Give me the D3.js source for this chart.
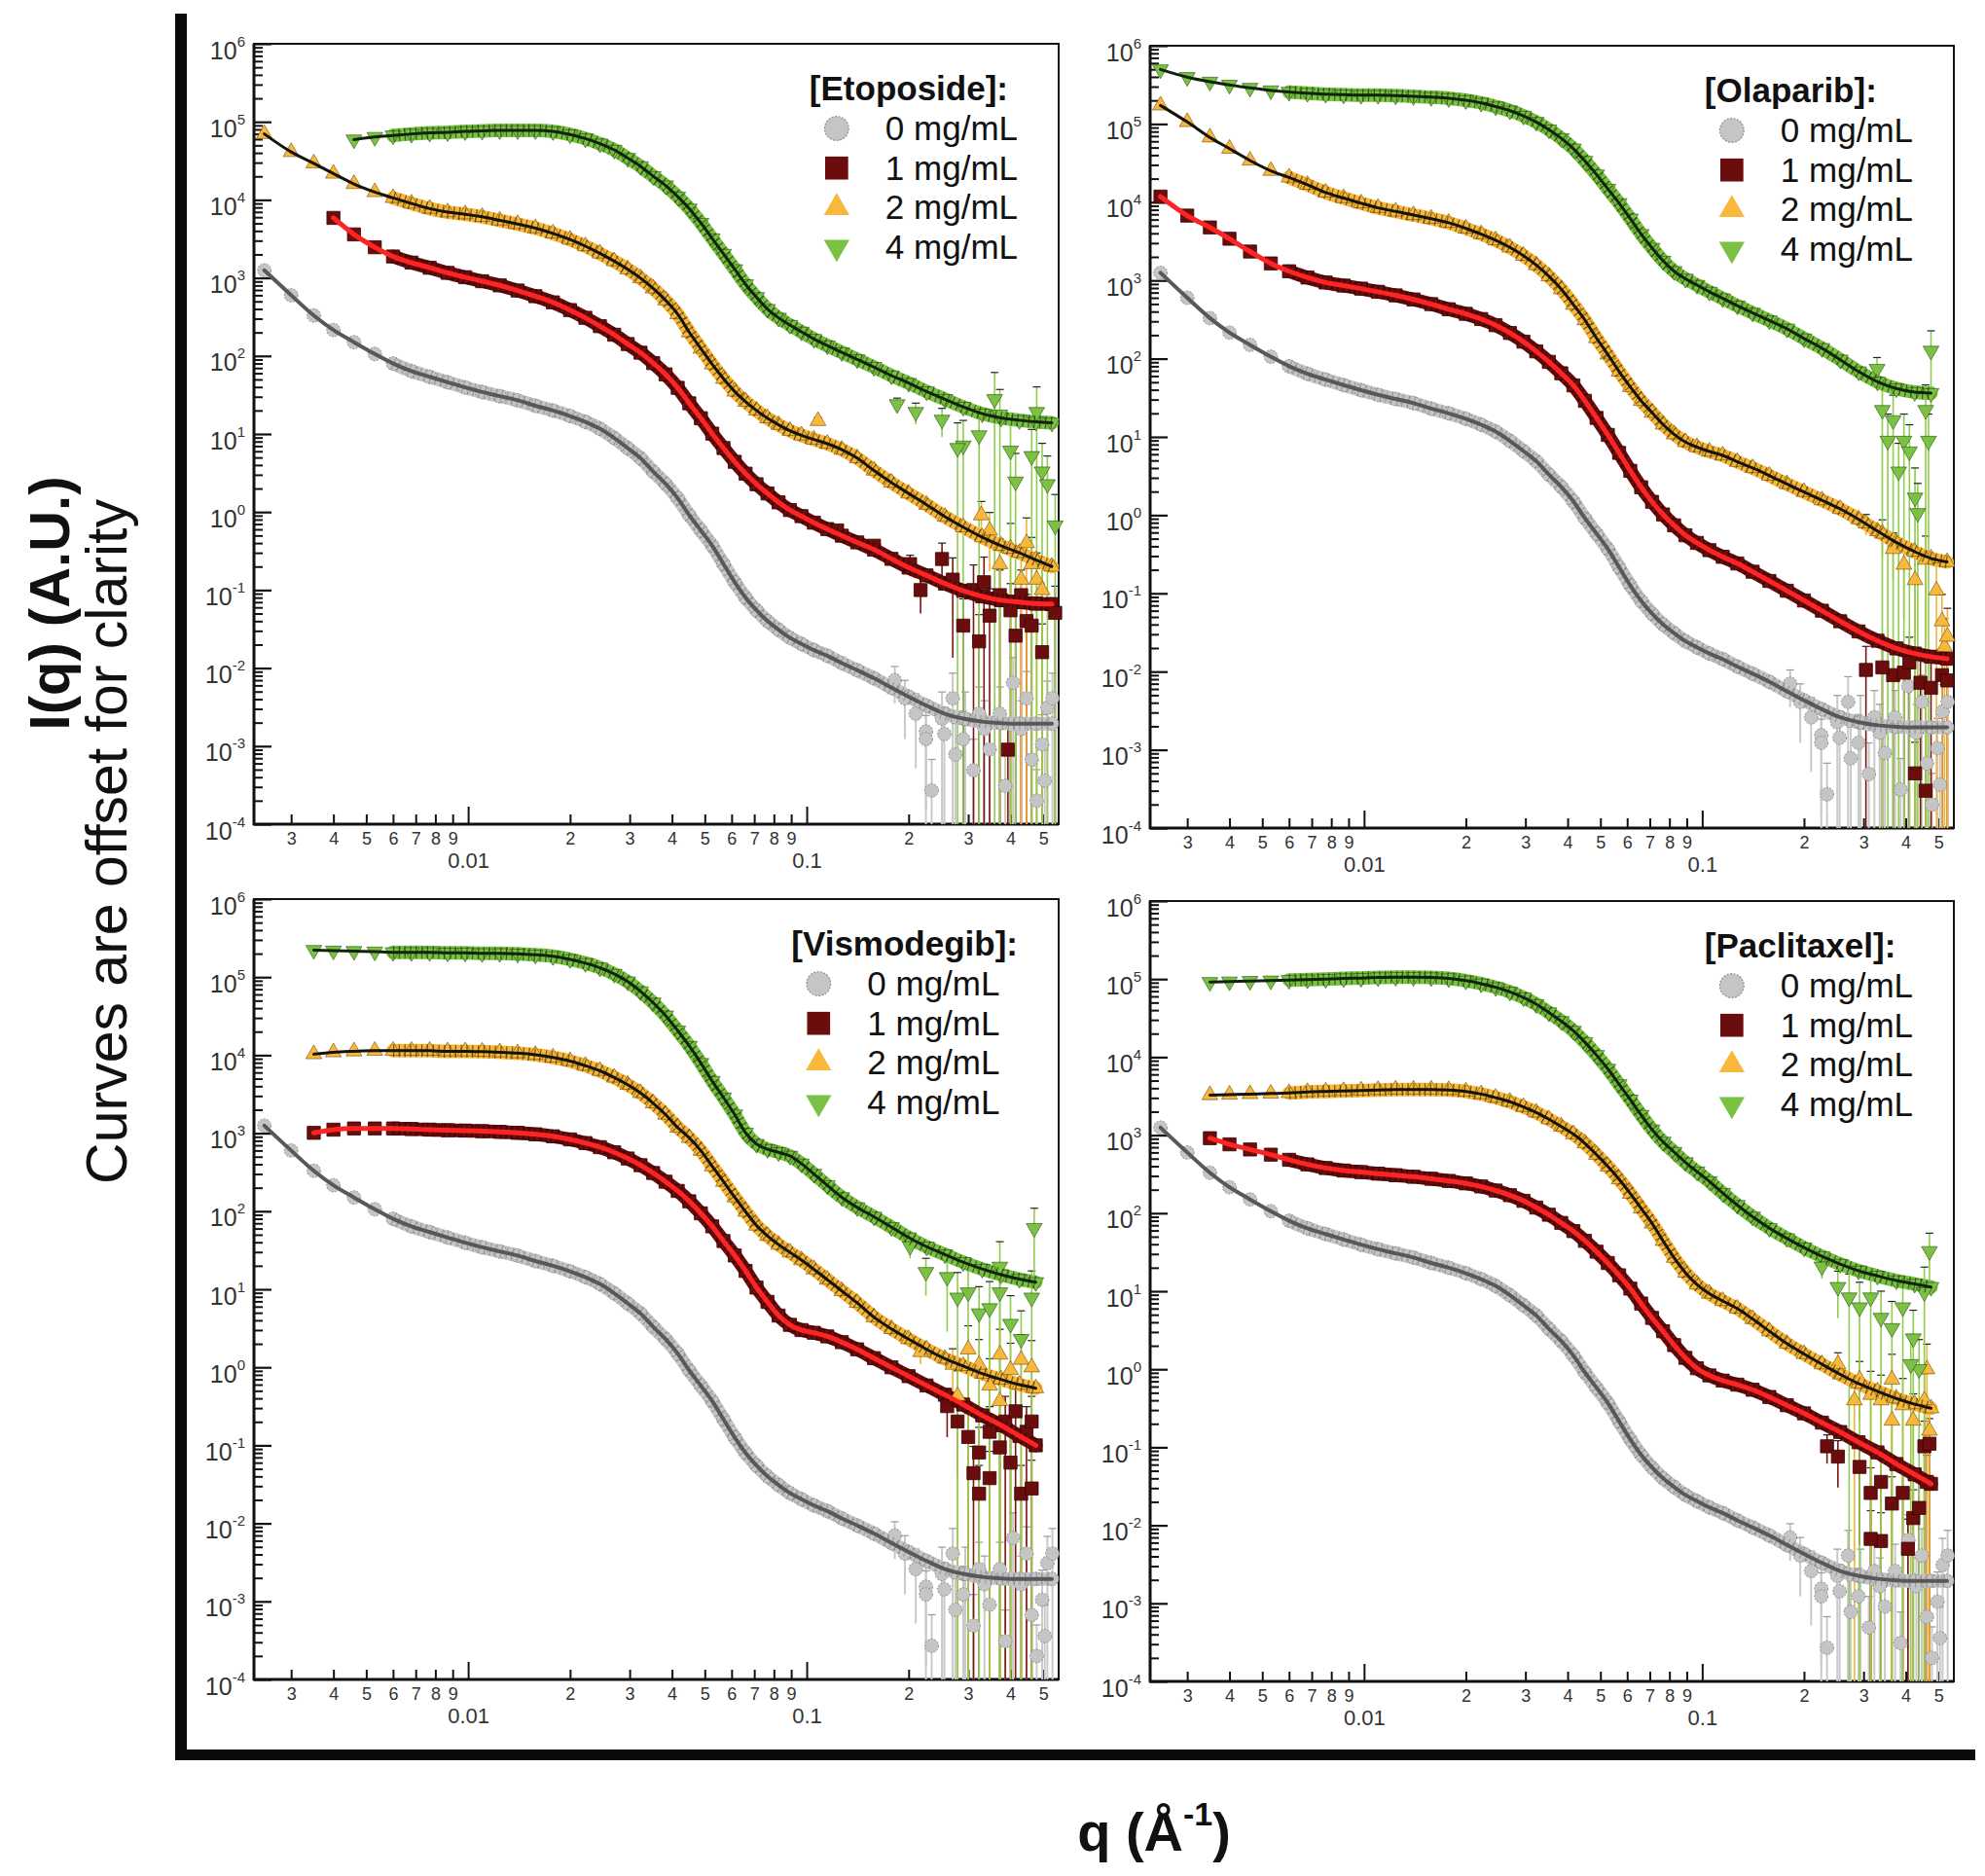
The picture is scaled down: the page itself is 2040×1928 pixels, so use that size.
<!DOCTYPE html>
<html><head><meta charset="utf-8">
<script src="https://cdn.jsdelivr.net/npm/d3@7"></script>
<style>
html,body{margin:0;padding:0;background:#fff;}
svg{display:block;font-family:"Liberation Sans",Arial,Helvetica,sans-serif;}
</style></head><body>
<svg id="chart" width="2040" height="1928"></svg>
<script>
// ---------------- DATA ----------------
const qGrid = [0.0025,0.003,0.0035,0.004,0.0046,0.0053,0.006,0.0068,0.0077,0.0087,0.0098,0.011,0.0124,0.014,0.0158,0.0178,0.02,0.0222,0.0245,0.027,0.0296,0.0323,0.0352,0.0383,0.0416,0.045,0.0487,0.0526,0.0568,0.0613,0.066,0.0711,0.0766,0.0826,0.0892,0.0965,0.105,0.115,0.127,0.141,0.158,0.178,0.2,0.226,0.256,0.29,0.33,0.375,0.425,0.475,0.53];

const drugNames = ["Etoposide","Olaparib","Vismodegib","Paclitaxel"];
const concLabels = ["0 mg/mL","1 mg/mL","2 mg/mL","4 mg/mL"];

// 0 mg/mL control (same in every panel)
const control0 = [1250,600,330,215,150,106,80,64,54,46,39.5,34.5,30.5,27,23,20,17,14.3,11.7,8.9,6.6,4.9,3.3,2.3,1.5,0.91,0.58,0.37,0.215,0.126,0.080,0.055,0.040,0.031,0.0245,0.0204,0.017,0.0144,0.0116,0.0094,0.0074,0.0056,0.0043,0.0033,0.0026,0.00225,0.00206,0.00197,0.00194,0.00194,0.00194];
const control0Noise = [[0.182,0.0070,0.5],[0.195,0.0041,0.7],[0.210,0.0026,0.8],[0.225,0.00154,0.9],[0.234,0.00027,1.5],[0.251,0.00225,1.2],[0.270,0.0041,1.1],[0.275,0.00078,1.5],[0.290,0.00123,1.3],[0.311,0.00049,1.5],[0.323,0.0026,1.2],[0.347,0.00091,1.5],[0.372,0.0026,1.2],[0.386,0.00031,1.5],[0.407,0.0065,1.1],[0.430,0.00166,1.3],[0.446,0.0041,1.2],[0.462,0.00067,1.5],[0.478,0.0002,1.5],[0.496,0.00105,1.4],[0.514,0.0031,1.2],[0.532,0.0041,1.1],[0.505,0.00036,1.5],[0.225,0.00123,1.0],[0.255,0.00143,1.2],[0.294,0.00225,1.2],[0.335,0.00166,1.3]];

// Etoposide
const etoposide1 = [null,null,null,5870,3610,2470,1880,1570,1350,1160,1020,906,802,689,583,486,387,308,241,187,142,110,81,58,39,24.7,15.9,10.1,6.6,4.4,3.1,2.27,1.73,1.33,1.06,0.885,0.73,0.605,0.497,0.408,0.33,0.251,0.194,0.154,0.121,0.098,0.083,0.074,0.070,0.067,0.066];
const etoposide2 = [70000,41100,29400,21700,16000,12600,10600,8990,7720,6950,6540,6060,5450,4900,4340,3720,3100,2550,2060,1640,1290,993,733,516,343,201,124,78,51,35,25.9,20,15.9,13.1,11.0,9.6,8.5,7.5,6.3,4.9,3.4,2.38,1.73,1.24,0.87,0.64,0.475,0.37,0.30,0.243,0.20];
const etoposide4 = [null,null,null,null,59200,63800,66800,70000,72100,73200,75500,76600,77800,77800,77800,75500,68900,61000,52500,43700,34300,26900,20100,15300,11000,7720,5050,3200,2030,1290,826,565,399,308,249,204,165,136,111,90,72,56,45,35,27.9,22.2,18.2,16.1,15.0,14.3,13.9];
const etoposide1Noise = [[0.123,0.58,0.1],[0.158,0.37,0.15],[0.202,0.215,0.3],[0.217,0.10,0.5],[0.251,0.25,0.6],[0.270,0.136,0.9],[0.290,0.035,1.2],[0.323,0.022,1.2],[0.347,0.047,1.2],[0.372,0.086,1.1],[0.400,0.055,1.2],[0.414,0.026,1.3],[0.446,0.040,1.2],[0.462,0.035,1.2],[0.496,0.016,1.3],[0.542,0.051,1.2],[0.393,0.0009,1.5],[0.311,0.10,1.1],[0.334,0.126,1.1],[0.430,0.086,1.1]];
const etoposide2Noise = [[0.108,14.7,0.1],[0.328,0.91,0.5],[0.347,0.58,0.7],[0.446,0.40,1.1],[0.462,0.215,1.2],[0.430,0.136,1.2],[0.478,0.136,1.2],[0.496,0.10,1.2],[0.372,0.215,1.1],[0.400,0.34,1.1]];
const etoposide4Noise = [[0.185,24,0.2],[0.210,19.1,0.3],[0.251,15.2,0.4],[0.290,7.1,1.1],[0.323,9.6,1.1],[0.359,27.9,1.2],[0.400,6.1,1.2],[0.414,2.45,1.3],[0.462,5.2,1.2],[0.496,3.3,1.3],[0.514,2.27,1.3],[0.542,0.67,1.5],[0.279,6.6,1.1],[0.478,19.1,1.1],[0.372,17.7,1.1]];

// Olaparib
const olaparib1 = [11800,6740,4760,3410,2340,1650,1310,1090,941,859,785,716,644,571,498,428,374,321,268,213,165,124,91,65,45.5,28.9,17.5,10.6,6.25,3.68,2.27,1.48,1.02,0.74,0.553,0.441,0.357,0.293,0.241,0.189,0.144,0.108,0.081,0.060,0.044,0.0326,0.0248,0.0198,0.0170,0.0155,0.0146];
const olaparib2 = [172600,106000,67400,48300,34100,25200,20700,16700,13300,11300,9700,8470,7620,6850,6160,5460,4620,3910,3260,2640,2070,1570,1130,773,491,311,183,113,68.5,43.5,28.9,20.4,14.4,10.8,8.6,7.4,6.5,5.8,4.8,4.0,3.2,2.5,1.98,1.55,1.2,0.885,0.625,0.448,0.341,0.280,0.252];
const olaparib4 = [498000,397000,346000,316000,289000,268000,256000,248000,241000,237000,234000,234000,230000,226000,220000,213000,201000,186000,167000,148000,127000,106000,84700,65500,48300,33600,22600,14800,9700,6160,3910,2600,1780,1310,1050,873,716,589,476,385,307,241,181,136,97,68.5,50.6,41.5,37.3,36.2,null];
const olaparib1Noise = [[0.305,0.0105,1.0],[0.367,0.009,1.1],[0.395,0.0097,1.1],[0.442,0.0072,1.2],[0.475,0.0062,1.2],[0.512,0.009,1.2],[0.531,0.0077,1.2],[0.426,0.0005,1.5],[0.458,0.0003,1.5],[0.341,0.0113,1.1],[0.410,0.0131,1.1]];
const olaparib2Noise = [[0.341,0.58,0.5],[0.367,0.37,0.6],[0.395,0.233,0.8],[0.426,0.148,1.0],[0.493,0.109,1.1],[0.512,0.044,1.2],[0.521,0.0207,1.3],[0.531,0.028,1.3],[0.458,0.27,1.0],[0.305,0.785,0.3]];
const olaparib4Noise = [[0.329,73.8,0.4],[0.341,22,1.1],[0.367,16.3,1.1],[0.381,3.6,1.3],[0.395,8.9,1.2],[0.426,1.67,1.4],[0.434,1.06,1.4],[0.458,22,1.1],[0.475,126,0.8],[0.410,6.5,1.2],[0.354,8.9,1.2],[0.467,8.9,1.2]];

// Vismodegib
const vismodegib1 = [null,null,1010,1110,1150,1150,1150,1130,1110,1090,1080,1060,1040,1010,968,912,832,748,662,569,474,389,309,239,182,134,94,64,41.5,27.1,17.2,10.5,6.9,4.6,3.5,3.0,2.77,2.49,2.10,1.70,1.31,1.0,0.77,0.585,0.445,0.333,0.242,0.181,0.132,0.10,null];
const vismodegib2 = [null,null,10300,10900,11200,11400,11400,11400,11400,11200,11200,11100,10900,10600,10100,9350,8410,7330,6300,5170,4180,3270,2420,1730,1180,871,596,377,239,151,98.8,65.5,48.3,37.3,29.7,23.6,18.0,13.3,9.5,6.7,4.4,3.1,2.3,1.70,1.29,1.04,0.83,0.70,0.60,0.54,null];
const vismodegib4 = [null,null,222000,218000,215000,212000,208000,208000,208000,205000,205000,202000,202000,199000,193000,185000,169000,151000,132000,110000,87600,65600,47000,32100,20600,13100,7910,4650,2860,1730,1010,726,624,569,512,407,300,215,151,112,85,62.5,46.1,35.1,27.9,22.2,18.2,15.4,13.5,12.3,null];
const vismodegib1Noise = [[0.260,0.318,0.6],[0.279,0.202,0.8],[0.300,0.128,1.0],[0.311,0.044,1.2],[0.323,0.081,1.1],[0.347,0.149,1.1],[0.372,0.094,1.1],[0.386,0.202,1.1],[0.400,0.060,1.2],[0.414,0.273,1.1],[0.430,0.024,1.3],[0.446,0.149,1.1],[0.462,0.028,1.3],[0.462,0.202,1.1],[0.347,0.038,1.2],[0.323,0.024,1.3]];
const vismodegib2Noise = [[0.217,1.57,0.3],[0.270,1.08,0.6],[0.300,1.70,1.0],[0.323,1.08,1.1],[0.347,0.585,1.2],[0.372,1.46,1.1],[0.400,0.925,1.2],[0.430,1.25,1.1],[0.462,1.0,1.2],[0.279,0.43,1.1],[0.372,0.37,1.2]];
const vismodegib4Noise = [[0.202,35.6,0.3],[0.225,16.6,0.5],[0.260,14.3,0.8],[0.279,7.8,1.1],[0.300,9.1,1.1],[0.323,4.9,1.2],[0.347,5.7,1.2],[0.372,9.1,1.1],[0.400,3.6,1.3],[0.430,2.3,1.3],[0.462,7.8,1.2],[0.470,60.7,0.8],[0.372,19.4,1.1]];

// Paclitaxel
const paclitaxel1 = [null,null,914,762,655,562,483,422,379,352,336,321,307,293,276,259,241,220,195,170,144,118,95.5,75,58.9,44.2,32.1,23.0,16.0,10.8,6.95,4.55,3.07,2.04,1.40,1.03,0.834,0.716,0.635,0.546,0.441,0.346,0.272,0.207,0.157,0.116,0.086,0.061,0.045,0.034,null];
const paclitaxel2 = [null,null,3260,3310,3360,3410,3460,3570,3630,3680,3740,3790,3850,3850,3850,3790,3630,3360,3020,2680,2300,1950,1600,1290,1030,785,562,397,272,178,115,73.8,44.2,26.8,17.3,12.2,9.3,7.5,6.0,4.4,3.07,2.13,1.57,1.16,0.86,0.655,0.521,0.422,0.357,0.316,null];
const paclitaxel4 = [null,null,91400,92700,94200,95500,97000,98400,100000,102000,103000,105000,106000,106000,105000,102000,95500,87300,78500,68500,58000,47600,37300,28900,21700,15500,10600,7060,4480,2840,1810,1180,820,607,448,341,256,181,127,90,64.4,47.6,36.2,28.0,22.3,18.3,15.7,13.7,12.4,11.3,null];
const paclitaxel1Noise = [[0.234,0.103,0.4],[0.252,0.076,0.6],[0.292,0.056,0.9],[0.315,0.026,1.1],[0.338,0.036,1.1],[0.364,0.019,1.2],[0.392,0.026,1.2],[0.421,0.0124,1.3],[0.454,0.103,1.1],[0.462,0.036,1.2],[0.338,0.0063,1.3],[0.406,0.005,1.4],[0.315,0.0067,1.3],[0.438,0.0167,1.3],[0.470,0.111,1.1]];
const paclitaxel2Noise = [[0.252,1.16,0.4],[0.292,0.74,0.7],[0.315,0.47,1.0],[0.338,0.40,1.1],[0.364,0.74,1.1],[0.392,0.346,1.2],[0.421,0.22,1.2],[0.454,0.40,1.2],[0.462,1.0,1.1],[0.470,0.163,1.3],[0.364,0.22,1.2],[0.282,0.40,1.0]];
const paclitaxel4Noise = [[0.226,20.7,0.3],[0.252,11.3,0.6],[0.272,8.3,1.0],[0.292,6.2,1.1],[0.315,8.3,1.1],[0.338,4.55,1.2],[0.364,3.36,1.2],[0.392,6.2,1.2],[0.421,2.48,1.3],[0.438,1.0,1.4],[0.454,9.7,1.1],[0.470,32.6,0.7],[0.414,1.16,1.4]];

// axes
const qDomain = [0.00233, 0.555];
const iDomain = [1e-4, 1e6];
const xMinorTicks = [0.003,0.004,0.005,0.006,0.007,0.008,0.009,0.02,0.03,0.04,0.05,0.06,0.07,0.08,0.09,0.2,0.3,0.4,0.5];
const xMajorTicks = [0.01, 0.1];
const xMajorLabels = ["0.01", "0.1"];
const yExponents = [-4,-3,-2,-1,0,1,2,3,4,5,6];

// ---------------- DRAWING ----------------
const svg = d3.select("#chart");

const panels = [
  {drug: drugNames[0], rect: [261, 45, 1088, 847],
   series: [control0, etoposide1, etoposide2, etoposide4],
   noise: [control0Noise, etoposide1Noise, etoposide2Noise, etoposide4Noise]},
  {drug: drugNames[1], rect: [1182, 47, 2008, 851],
   series: [control0, olaparib1, olaparib2, olaparib4],
   noise: [control0Noise, olaparib1Noise, olaparib2Noise, olaparib4Noise]},
  {drug: drugNames[2], rect: [261, 924, 1088, 1726],
   series: [control0, vismodegib1, vismodegib2, vismodegib4],
   noise: [control0Noise, vismodegib1Noise, vismodegib2Noise, vismodegib4Noise]},
  {drug: drugNames[3], rect: [1182, 926, 2008, 1728],
   series: [control0, paclitaxel1, paclitaxel2, paclitaxel4],
   noise: [control0Noise, paclitaxel1Noise, paclitaxel2Noise, paclitaxel4Noise]}
];

const styles = [
  {sym: d3.symbolCircle, size: 150, rot: 0, fill: "#c5c5c5", stroke: "#8a8a8a", dash: "2,1.5", sw: 1, line: "#585858", lw: 4, err: "#c9c9c9", ew: 2, hatch: "#6a6a6a", hop: 0.45},
  {sym: d3.symbolSquare, size: 180, rot: 0, fill: "#6b0d0d", stroke: "#3a0404", dash: null, sw: 0.8, line: "#ff2424", lw: 5, err: "#7d1414", ew: 1.6, hatch: "#200000", hop: 0.6},
  {sym: d3.symbolTriangle, size: 115, rot: 0, fill: "#f8b83b", stroke: "#6e4a00", dash: null, sw: 0.6, line: "#161208", lw: 3, err: "#f3b437", ew: 1.6, hatch: "#1a1000", hop: 0.55},
  {sym: d3.symbolTriangle, size: 115, rot: 180, fill: "#7bc143", stroke: "#264f0c", dash: null, sw: 0.6, line: "#0f240c", lw: 3, err: "#8fcd4e", ew: 1.6, hatch: "#061a04", hop: 0.55}
];
const bandStartQ = 0.006;

// big frame
svg.append("rect").attr("x", 180).attr("y", 14).attr("width", 12).attr("height", 1795).attr("fill", "#0a0a0a");
svg.append("rect").attr("x", 180).attr("y", 1798).attr("width", 1850).attr("height", 11).attr("fill", "#0a0a0a");

function yMinorValues() {
  const v = [];
  for (let e = -4; e < 6; e++) for (let k = 2; k <= 9; k++) v.push(k * Math.pow(10, e));
  return v;
}

panels.forEach(p => {
  const [x0, y0, x1, y1] = p.rect;
  const x = d3.scaleLog().domain(qDomain).range([x0, x1]);
  const y = d3.scaleLog().domain(iDomain).range([y1, y0]);
  const g = svg.append("g");

  // axes (ticks inward)
  const xMinor = d3.axisBottom(x).tickValues(xMinorTicks).tickSize(-10).tickSizeOuter(0).tickPadding(8)
    .tickFormat(d => String(Math.round(d / Math.pow(10, Math.floor(Math.log10(d) + 1e-9)))));
  const gxm = g.append("g").attr("transform", `translate(0,${y1})`).call(xMinor);
  gxm.select(".domain").remove();
  gxm.selectAll(".tick line").attr("stroke", "#111").attr("stroke-width", 2);
  gxm.selectAll(".tick text").attr("font-size", 18).attr("fill", "#333").attr("font-family", "Liberation Sans, Arial, sans-serif");

  const xMajor = d3.axisBottom(x).tickValues(xMajorTicks).tickSize(-18).tickSizeOuter(0).tickPadding(29)
    .tickFormat((d, i) => xMajorLabels[i]);
  const gxM = g.append("g").attr("transform", `translate(0,${y1})`).call(xMajor);
  gxM.select(".domain").remove();
  gxM.selectAll(".tick line").attr("stroke", "#111").attr("stroke-width", 2);
  gxM.selectAll(".tick text").attr("font-size", 22).attr("fill", "#333").attr("font-family", "Liberation Sans, Arial, sans-serif");

  const yMinor = d3.axisLeft(y).tickValues(yMinorValues()).tickSize(-9).tickSizeOuter(0).tickFormat("");
  const gym = g.append("g").attr("transform", `translate(${x0},0)`).call(yMinor);
  gym.select(".domain").remove();
  gym.selectAll(".tick line").attr("stroke", "#111").attr("stroke-width", 2);

  const yMajor = d3.axisLeft(y).tickValues(yExponents.map(e => Math.pow(10, e))).tickSize(-18).tickSizeOuter(0).tickFormat("");
  const gyM = g.append("g").attr("transform", `translate(${x0},0)`).call(yMajor);
  gyM.select(".domain").remove();
  gyM.selectAll(".tick line").attr("stroke", "#111").attr("stroke-width", 2.2);
  gyM.selectAll(".tick").each(function(d, i) {
    const t = d3.select(this).append("text")
      .attr("x", -9).attr("y", 15).attr("text-anchor", "end")
      .attr("fill", "#333").attr("font-size", 25)
      .attr("font-family", "Liberation Sans, Arial, sans-serif");
    t.append("tspan").text("10");
    t.append("tspan").attr("dy", -13).attr("font-size", 15).text(String(yExponents[i]));
  });

  // box
  g.append("rect").attr("x", x0).attr("y", y0).attr("width", x1 - x0).attr("height", y1 - y0)
    .attr("fill", "none").attr("stroke", "#111").attr("stroke-width", 2);
  g.append("line").attr("x1", x0).attr("x2", x0).attr("y1", y0).attr("y2", y1 + 1).attr("stroke", "#111").attr("stroke-width", 3);
  g.append("line").attr("x1", x0 - 1).attr("x2", x1).attr("y1", y1).attr("y2", y1).attr("stroke", "#111").attr("stroke-width", 3);

  const [ylo] = y.range();
  // error bars
  p.noise.forEach((arr, si) => {
    const st = styles[si];
    const eg = g.append("g");
    arr.forEach(([q, I, e]) => {
      const lo = I * (1 - e);
      const yLo = lo <= iDomain[0] ? ylo : y(lo);
      const yHi = y(I * (1 + e));
      eg.append("line").attr("x1", x(q)).attr("x2", x(q)).attr("y1", yLo).attr("y2", yHi)
        .attr("stroke", st.err).attr("stroke-width", st.ew);
      eg.append("line").attr("x1", x(q) - 4).attr("x2", x(q) + 4).attr("y1", yHi).attr("y2", yHi)
        .attr("stroke", si === 0 ? "#9a9a9a" : "#222").attr("stroke-width", 1.2);
    });
  });

  const curveLine = d3.line().defined(d => d[1] != null)
    .x(d => x(d[0])).y(d => y(d[1])).curve(d3.curveMonotoneX);

  // dense-data band + markers
  p.series.forEach((vals, si) => {
    const st = styles[si];
    const pairs = vals.map((v, i) => [qGrid[i], v]);
    const bandPts = pairs.filter(d => d[1] != null && d[0] >= bandStartQ);
    g.append("path").datum(bandPts).attr("d", curveLine)
      .attr("fill", "none").attr("stroke", st.fill).attr("stroke-width", 14)
      .attr("stroke-linecap", "round").attr("stroke-linejoin", "round");
    const pts = pairs.filter(d => d[1] != null).concat(p.noise[si].map(d => [d[0], d[1]]));
    const sym = d3.symbol().type(st.sym).size(st.size);
    g.append("g").selectAll("path").data(pts).join("path")
      .attr("d", sym)
      .attr("transform", d => `translate(${x(d[0])},${y(d[1])}) rotate(${st.rot})`)
      .attr("fill", st.fill).attr("stroke", st.stroke).attr("stroke-width", st.sw)
      .attr("stroke-dasharray", st.dash);
    // texture of overlapping marker edges / error caps
    g.append("path").datum(bandPts).attr("d", curveLine)
      .attr("fill", "none").attr("stroke", st.hatch).attr("stroke-opacity", st.hop)
      .attr("stroke-width", 13).attr("stroke-dasharray", "1.3,4.5");
  });

  // fit lines
  p.series.forEach((vals, si) => {
    const st = styles[si];
    g.append("path").datum(vals.map((v, i) => [qGrid[i], v]))
      .attr("d", curveLine).attr("fill", "none").attr("stroke", st.line)
      .attr("stroke-width", st.lw).attr("stroke-linejoin", "round").attr("stroke-linecap", "round");
  });

  // legend
  const lg = g.append("g");
  const title = lg.append("text").attr("font-size", 35).attr("font-weight", "bold").attr("fill", "#111")
    .text(`[${p.drug}]:`);
  const tW = title.node().getComputedTextLength();
  const probe = lg.append("text").attr("font-size", 35).text(concLabels[0]);
  const eW = probe.node().getComputedTextLength();
  probe.remove();
  const blockW = Math.max(tW, 78 + eW);
  const mx = x1 - 42 - blockW + 28;
  title.attr("x", mx - 28).attr("y", y0 + 58);
  concLabels.forEach((lab, i) => {
    const st = styles[i];
    const by = y0 + 99 + 40.7 * i;
    const sz = i === 0 ? 480 : (i === 1 ? 560 : 300);
    lg.append("path").attr("d", d3.symbol().type(st.sym).size(sz))
      .attr("transform", `translate(${mx},${by - 12}) rotate(${st.rot})`)
      .attr("fill", st.fill).attr("stroke", i === 0 ? "#8e8e8e" : "none")
      .attr("stroke-width", 1.2).attr("stroke-dasharray", i === 0 ? "2,1.5" : null);
    lg.append("text").attr("x", mx + 50).attr("y", by).attr("font-size", 35).attr("fill", "#111").text(lab);
  });
});

// axis titles
svg.append("text").attr("transform", "translate(50,620) rotate(-90)")
  .attr("text-anchor", "middle").attr("dominant-baseline", "central")
  .attr("font-size", 58).attr("font-weight", "bold").attr("fill", "#111").text("I(q) (A.U.)");
svg.append("text").attr("transform", "translate(110,865) rotate(-90)")
  .attr("text-anchor", "middle").attr("dominant-baseline", "central")
  .attr("font-size", 59).attr("fill", "#111").text("Curves are offset for clarity");

const xt = svg.append("text").attr("x", 1186).attr("y", 1902).attr("text-anchor", "middle")
  .attr("font-size", 56).attr("font-weight", "bold").attr("fill", "#111");
xt.append("tspan").text("q (Å");
xt.append("tspan").attr("dy", -26).attr("font-size", 34).text("-1");
xt.append("tspan").attr("dy", 26).text(")");
</script>
</body></html>
